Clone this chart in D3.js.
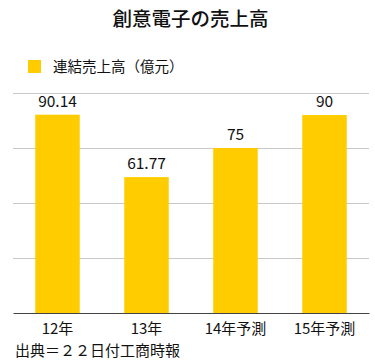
<!DOCTYPE html>
<html>
<head>
<meta charset="utf-8">
<script src="https://cdn.jsdelivr.net/npm/d3@7"></script>
<style>
  body { margin: 0; background: #fff; }
  text { font-family: "Noto Sans CJK JP", "Noto Sans", sans-serif; fill: #111; }
</style>
</head>
<body>
<script>
// データ
const categories = ["12年", "13年", "14年予測", "15年予測"]
const values = [90.14, 61.77, 75, 90]
const valueLabels = ["90.14", "61.77", "75", "90"]
const gridTicks = [0, 25, 50, 75, 100]

const W = 375, H = 362
const margin = { top: 93, right: 6, bottom: 49, left: 13 }
const width = W - margin.left - margin.right
const height = H - margin.top - margin.bottom

const svg = d3.select("body").append("svg")
    .attr("width", W)
    .attr("height", H)

// タイトル
svg.append("text")
    .attr("x", W / 2 + 3)
    .attr("y", 26)
    .attr("text-anchor", "middle")
    .style("font-size", "19.5px")
    .style("font-weight", "500")
    .text("創意電子の売上高")

// 凡例
svg.append("rect")
    .attr("x", 28).attr("y", 60)
    .attr("width", 13).attr("height", 13)
    .attr("fill", "#ffcc00")
svg.append("text")
    .attr("x", 53).attr("y", 72)
    .style("font-size", "14.5px")
    .text("連結売上高（億元）")

const g = svg.append("g")
    .attr("transform", "translate(" + margin.left + "," + margin.top + ")")

const x = d3.scaleBand()
    .domain(categories)
    .range([0, width])
    .paddingInner(0.5)
    .paddingOuter(0.25)

const y = d3.scaleLinear()
    .domain([0, 100])
    .range([height, 0])

// グリッド
g.append("g")
    .call(d3.axisLeft(y).tickValues(gridTicks.slice(1)).tickSize(-width).tickFormat(""))
    .call(a => a.select(".domain").remove())
    .call(a => a.selectAll("line").attr("stroke", "#c8c8c8"))

// 棒
g.selectAll(".bar")
    .data(values)
    .join("rect")
    .attr("class", "bar")
    .attr("x", (d, i) => x(categories[i]))
    .attr("y", d => y(d))
    .attr("width", x.bandwidth())
    .attr("height", d => height - y(d))
    .attr("fill", "#ffcc00")

// 値ラベル
g.selectAll(".val")
    .data(values)
    .join("text")
    .attr("class", "val")
    .attr("x", (d, i) => x(categories[i]) + x.bandwidth() / 2)
    .attr("y", d => y(d) - 8)
    .attr("text-anchor", "middle")
    .style("font-size", "15.5px")
    .text((d, i) => valueLabels[i])

// X軸
const xAxis = g.append("g")
    .attr("transform", "translate(0," + height + ")")
    .call(d3.axisBottom(x).tickSize(0).tickPadding(10))
xAxis.select(".domain").attr("stroke", "#444")
xAxis.selectAll("text")
    .style("font-size", "15px")
    .style("font-family", "\"Noto Sans CJK JP\", sans-serif")
    .attr("fill", "#111")

// 出典
svg.append("text")
    .attr("x", 15).attr("y", 356)
    .style("font-size", "15px")
    .text("出典＝２２日付工商時報")
</script>
</body>
</html>
